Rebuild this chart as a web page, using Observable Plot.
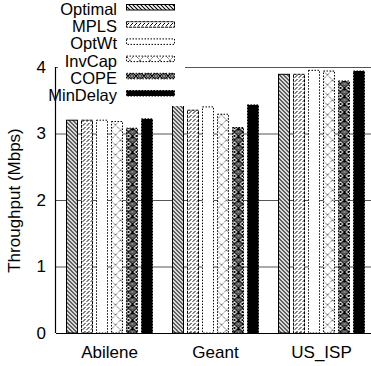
<!DOCTYPE html>
<html>
<head>
<meta charset="utf-8">
<script src="https://cdn.jsdelivr.net/npm/d3@7"></script>
<script src="https://cdn.jsdelivr.net/npm/@observablehq/plot@0.6"></script>
<style>
  html, body { margin: 0; padding: 0; background: white; }
  #wrap { position: relative; width: 371px; height: 366px; overflow: hidden; }
  #legend { position: absolute; left: 0; top: 0; }
  text { font-family: "Liberation Sans", Arial, Helvetica, sans-serif; }
</style>
</head>
<body>
<svg width="0" height="0" style="position:absolute">
  <defs>
    <pattern id="p-optimal" patternUnits="userSpaceOnUse" width="4" height="4">
      <rect width="4" height="4" fill="white"/>
      <path d="M-1,-1 L5,5 M-1,3 L1,5 M3,-1 L5,1" stroke="black" stroke-width="1.1"/>
    </pattern>
    <pattern id="p-mpls" patternUnits="userSpaceOnUse" width="4" height="4">
      <rect width="4" height="4" fill="white"/>
      <path d="M-1,5 L5,-1" stroke="black" stroke-width="1" stroke-dasharray="3 1.5"/>
      <path d="M-1,1 L1,-1 M3,5 L5,3" stroke="black" stroke-width="1"/>
    </pattern>
    <pattern id="p-optwt" patternUnits="userSpaceOnUse" width="6" height="6">
      <rect width="6" height="6" fill="white"/>
    </pattern>
    <pattern id="p-invcap" patternUnits="userSpaceOnUse" width="10" height="10">
      <rect width="10" height="10" fill="white"/>
      <path d="M0,0 L10,10 M10,0 L0,10" stroke="black" stroke-width="0.8" stroke-dasharray="1 1"/>
    </pattern>
    <pattern id="p-cope" patternUnits="userSpaceOnUse" width="8" height="8">
      <rect width="8" height="8" fill="white"/>
      <path d="M0,4 L4,0 L8,4 L4,8 Z" fill="none" stroke="black" stroke-width="1.5"/>
      <circle cx="4" cy="4" r="1.4" fill="none" stroke="black" stroke-width="1"/>
      <circle cx="0" cy="0" r="1.2" fill="black"/>
      <circle cx="8" cy="0" r="1.2" fill="black"/>
      <circle cx="0" cy="8" r="1.2" fill="black"/>
      <circle cx="8" cy="8" r="1.2" fill="black"/>
    </pattern>
    <pattern id="p-mindelay" patternUnits="userSpaceOnUse" width="4" height="4">
      <rect width="4" height="4" fill="black"/>
    </pattern>
  </defs>
</svg>
<div id="wrap"></div>
<script>
const groups = ["Abilene", "Geant", "US_ISP"];
const methods = ["Optimal", "MPLS", "OptWt", "InvCap", "COPE", "MinDelay"];
const abilene = [3.20, 3.20, 3.20, 3.18, 3.08, 3.22];
const geant = [3.43, 3.35, 3.40, 3.29, 3.09, 3.43];
const usIsp = [3.89, 3.89, 3.95, 3.94, 3.79, 3.94];
const yTicks = [0, 1, 2, 3, 4];

const seriesByGroup = {Abilene: abilene, Geant: geant, US_ISP: usIsp};
const data = groups.flatMap(g => methods.map((m, i) => ({group: g, method: m, value: seriesByGroup[g][i]})));

const styles = {
  Optimal:  {fill: "url(#p-optimal)",  stroke: "black", strokeDasharray: null},
  MPLS:     {fill: "url(#p-mpls)",     stroke: "black", strokeDasharray: "3 1"},
  OptWt:    {fill: "url(#p-optwt)",    stroke: "black", strokeDasharray: "1.5 1.5"},
  InvCap:   {fill: "url(#p-invcap)",   stroke: "black", strokeDasharray: "1.5 1.5"},
  COPE:     {fill: "url(#p-cope)",     stroke: "black", strokeDasharray: "1.5 1.5"},
  MinDelay: {fill: "url(#p-mindelay)", stroke: "black", strokeDasharray: "1.5 1.5"}
};

const font = '"Liberation Sans", Arial, Helvetica, sans-serif';
const fs = 17;
const legendFs = 16.5;

const chart = Plot.plot({
  width: 371,
  height: 366,
  marginTop: 67,
  marginBottom: 33,
  marginLeft: 55.5,
  marginRight: -4,
  style: {fontFamily: font, fontSize: fs + "px", color: "black", background: "white", overflow: "visible"},
  fx: {domain: groups, padding: 0, range: [55.5, 375]},
  x: {domain: methods, paddingInner: 0.276, paddingOuter: 0.64, axis: null},
  y: {domain: [0, 4]},
  marks: [
    Plot.ruleY(yTicks.filter(t => t > 0), {stroke: "#555", strokeWidth: 1}),
    ...methods.map(m => {
      const s = styles[m];
      const opts = {fx: "group", x: "method", y: "value", fill: s.fill, stroke: s.stroke, strokeWidth: 1};
      if (s.strokeDasharray) opts.strokeDasharray = s.strokeDasharray;
      return Plot.barY(data.filter(d => d.method === m), opts);
    }),
    Plot.ruleY([0], {stroke: "black", strokeWidth: 1.2}),
    Plot.axisFx({anchor: "bottom", tickSize: 0, tickPadding: 12, label: null, fontSize: fs}),
    Plot.axisY({ticks: yTicks, tickFormat: d3.format("d"), tickSize: 0, tickPadding: 10.5, fontSize: fs,
      label: "Throughput (Mbps)", labelAnchor: "center", labelArrow: "none", labelOffset: 49})
  ]
});

document.getElementById("wrap").appendChild(chart);

// vertical y-axis line drawn with the library's y scale
const yScale = chart.scale("y");
const svgNS = "http://www.w3.org/2000/svg";
const axisLine = document.createElementNS(svgNS, "line");
axisLine.setAttribute("x1", 55.5);
axisLine.setAttribute("x2", 55.5);
axisLine.setAttribute("y1", yScale.apply(0));
axisLine.setAttribute("y2", yScale.apply(4));
axisLine.setAttribute("stroke", "black");
axisLine.setAttribute("stroke-width", "1.2");
chart.appendChild(axisLine);

// legend (key) overlay
const legend = d3.select("#wrap").append("svg")
  .attr("id", "legend")
  .attr("width", 200).attr("height", 106);
legend.append("rect").attr("x", 58).attr("y", 0).attr("width", 127).attr("height", 106).attr("fill", "white");
methods.forEach((m, i) => {
  const base = 15 + i * 17.2;
  legend.append("text")
    .attr("x", 117).attr("y", base)
    .attr("text-anchor", "end")
    .attr("font-size", legendFs)
    .attr("font-family", font)
    .text(m);
  const s = styles[m];
  legend.append("rect")
    .attr("x", 126.5).attr("y", base - 10.5)
    .attr("width", 48).attr("height", 5.5)
    .attr("fill", s.fill)
    .attr("stroke", "black")
    .attr("stroke-width", 1)
    .attr("stroke-dasharray", s.strokeDasharray);
});
</script>
</body>
</html>
